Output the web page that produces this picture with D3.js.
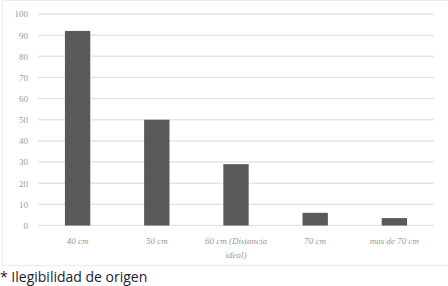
<!DOCTYPE html>
<html>
<head>
<meta charset="utf-8">
<script src="https://cdn.jsdelivr.net/npm/d3@7"></script>
<style>
  body { margin: 0; background: #fff; }
  svg { display: block; }
</style>
</head>
<body>
<script>
// Distancia a la pantalla
const categories = ['40 cm', '50 cm', '60 cm (Distancia ideal)', '70 cm', 'mas de 70 cm'];
const values = [92, 50, 29, 6, 3.5];
const yTicks = [0, 10, 20, 30, 40, 50, 60, 70, 80, 90, 100];
const note = '* Ilegibilidad de origen';

const width = 448, height = 286;
const margin = { top: 14, right: 14, bottom: 61, left: 38 };

const svg = d3.select('body').append('svg')
    .attr('width', width)
    .attr('height', height);

// chart frame
svg.append('rect')
    .attr('x', 2.5).attr('y', 0.5)
    .attr('width', 460).attr('height', 265)
    .attr('fill', 'none')
    .attr('stroke', '#d9d9d9')
    .attr('stroke-dasharray', '1,1');

const x = d3.scaleBand()
    .domain(categories)
    .range([margin.left, width - margin.right])
    .paddingInner(0.68)
    .paddingOuter(0.34);

const y = d3.scaleLinear()
    .domain([0, 100])
    .range([225.5, margin.top]);

// gridlines
svg.append('g')
    .selectAll('line')
    .data(yTicks)
    .enter()
    .append('line')
    .attr('x1', margin.left)
    .attr('x2', width - margin.right)
    .attr('y1', d => y(d))
    .attr('y2', d => y(d))
    .attr('stroke', '#e5e5e5')
    .attr('stroke-width', 1.5);

// y axis labels
const yAxis = svg.append('g')
    .attr('transform', `translate(${margin.left - 10},0)`)
    .call(d3.axisLeft(y).tickValues(yTicks).tickSize(0).tickPadding(0));
yAxis.select('.domain').remove();
yAxis.selectAll('text')
    .attr('fill', '#999')
    .style('font-family', 'Liberation Serif, serif')
    .style('font-size', '9px');

// bars
svg.selectAll('.bar')
    .data(values)
    .enter()
    .append('rect')
    .attr('class', 'bar')
    .attr('x', (d, i) => x(categories[i]))
    .attr('y', d => y(d))
    .attr('width', x.bandwidth())
    .attr('height', d => y(0) - y(d))
    .attr('fill', '#595959');

// x axis labels
const xAxis = svg.append('g')
    .attr('transform', `translate(0,${y(0)})`)
    .call(d3.axisBottom(x).tickSize(0).tickPadding(12));
xAxis.select('.domain').remove();
xAxis.selectAll('text')
    .attr('fill', '#999')
    .style('font-family', 'Liberation Serif, serif')
    .style('font-style', 'italic')
    .style('font-size', '9px')
    .each(function(d) {
        if (d.indexOf('(') > 0) {
            const t = d3.select(this);
            const parts = ['60 cm (Distancia', 'ideal)'];
            t.text(null);
            parts.forEach((p, k) => {
                t.append('tspan')
                    .attr('x', 0)
                    .attr('dy', k === 0 ? '0.71em' : '1.6em')
                    .text(p);
            });
            t.attr('dy', null);
        }
    });

// footnote
svg.append('text')
    .attr('x', 0)
    .attr('y', 282)
    .attr('fill', '#1a1a2e')
    .style('font-family', 'Open Sans, sans-serif')
    .style('font-size', '14px')
    .text(note);
</script>
</body>
</html>
